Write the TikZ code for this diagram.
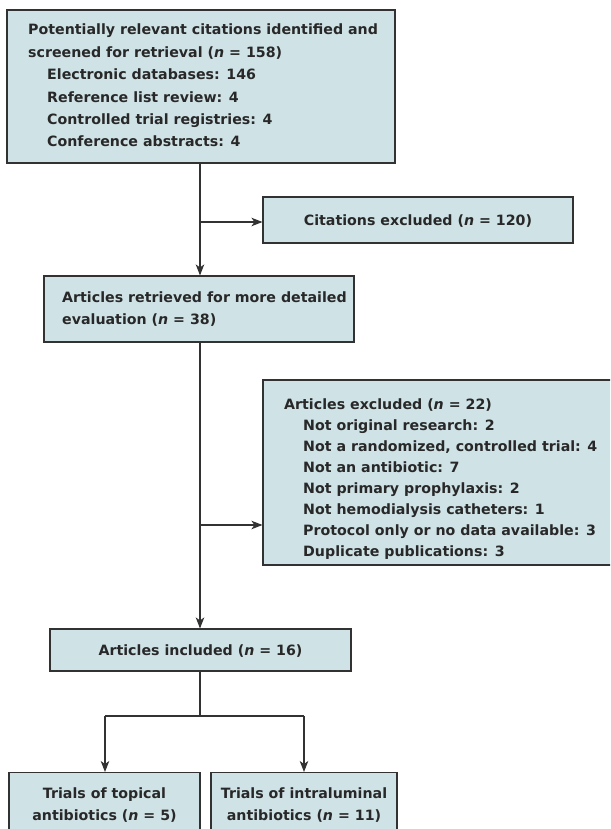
\documentclass[tikz,border=0pt]{standalone}
\usepackage{fontspec}
\setmainfont{DejaVu Sans Bold}[ItalicFont={DejaVu Sans Bold Oblique}]
\usetikzlibrary{arrows.meta}
\definecolor{boxfill}{RGB}{207,226,230}
\definecolor{linec}{RGB}{50,50,50}
\definecolor{textc}{RGB}{40,40,40}
\tikzset{
  box/.style={draw=linec, fill=boxfill, line width=1.1pt, inner sep=0pt},
  txt/.style={inner sep=0pt, anchor=base west, text=textc, font=\fontsize{14.2}{17}\selectfont},
  ctxt/.style={inner sep=0pt, anchor=base, text=textc, font=\fontsize{14.2}{17}\selectfont},
  conn/.style={draw=linec, line width=1.1pt},
  arr/.style={conn, -{Stealth[length=11pt,width=8.5pt,inset=3pt]}}
}
\newcommand{\nn}{\textit{n}}
\begin{document}
\begin{tikzpicture}[x=1pt,y=-1pt]
\useasboundingbox (0,0) rectangle (610,829);
\clip (0,0) rectangle (610,829);
\fill[white] (0,0) rectangle (610,829);
% boxes
\node[box, minimum width=388pt, minimum height=153pt] (b1) at (201,86.5) {};
\node[txt] (t1a) at (28,35) {Potentially relevant citations identified and};
\node[txt] (t1b) at (28,57.4) {screened for retrieval (\nn{} = 158)};
\node[txt] (t1c) at (47,79.8) {Electronic databases: 146};
\node[txt] (t1d) at (47,102.2) {Reference list review: 4};
\node[txt] (t1e) at (47,124.6) {Controlled trial registries: 4};
\node[txt] (t1f) at (47,147) {Conference abstracts: 4};
\node[box, minimum width=310pt, minimum height=46pt] (b2) at (418,220) {};
\node[ctxt] (t2) at (418,225) {Citations excluded (\nn{} = 120)};
\node[box, minimum width=310pt, minimum height=66pt] (b3) at (199,309) {};
\node[txt] (t3a) at (62,302) {Articles retrieved for more detailed};
\node[txt] (t3b) at (62,324) {evaluation (\nn{} = 38)};
\node[box, minimum width=380pt, minimum height=185pt] (b4) at (453,472.5) {};
\node[txt] (t4a) at (284,409) {Articles excluded (\nn{} = 22)};
\node[txt] (t4b) at (303,430.1) {Not original research: 2};
\node[txt] (t4c) at (303,451.2) {Not a randomized, controlled trial: 4};
\node[txt] (t4d) at (303,472.3) {Not an antibiotic: 7};
\node[txt] (t4e) at (303,493.4) {Not primary prophylaxis: 2};
\node[txt] (t4f) at (303,514.5) {Not hemodialysis catheters: 1};
\node[txt] (t4g) at (303,535.6) {Protocol only or no data available: 3};
\node[txt] (t4h) at (303,556.7) {Duplicate publications: 3};
\node[box, minimum width=301pt, minimum height=42pt] (b5) at (200.5,650) {};
\node[ctxt] (t5) at (200.5,655) {Articles included (\nn{} = 16)};
\node[box, minimum width=191pt, minimum height=80pt, anchor=north] (b6) at (104.5,772) {};
\node[box, minimum width=186pt, minimum height=80pt, anchor=north] (b7) at (304,772) {};
\node[ctxt] (t6a) at (104.5,798) {Trials of topical};
\node[ctxt] (t6b) at (104.5,820) {antibiotics (\nn{} = 5)};
\node[ctxt] (t7a) at (304,798) {Trials of intraluminal};
\node[ctxt] (t7b) at (304,820) {antibiotics (\nn{} = 11)};
% connectors
\coordinate (j1) at (200,222);
\coordinate (j2) at (200,525);
\coordinate (j3) at (200,716);
\coordinate (jl) at (105,716);
\coordinate (jr) at (304,716);
\draw[arr] (b1.south -| j1) -- (b3.north -| j1);
\draw[arr] (j1) -- (b2.west |- j1);
\draw[arr] (b3.south -| j2) -- (b5.north -| j2);
\draw[arr] (j2) -- (b4.west |- j2);
\draw[conn] (b5.south -| j3) -- (j3);
\draw[conn] (jl) -- (jr);
\draw[arr] (jl) -- (b6.north -| jl);
\draw[arr] (jr) -- (b7.north -| jr);
\end{tikzpicture}
\end{document}
